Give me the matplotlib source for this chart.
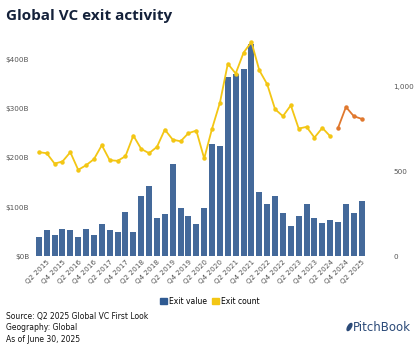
import matplotlib.pyplot as plt
from matplotlib.patches import Patch, Ellipse
import numpy as np

# data, Q1 2015 .. Q2 2025
quarters = ["Q%d %d" % (q, y) for y in range(2015, 2026) for q in range(1, 5)][:42]
exit_value = [39, 53, 43, 56, 54, 39, 55, 42, 65, 53,
              49, 90, 49, 122, 143, 78, 86, 187, 97, 82,
              66, 97, 229, 225, 364, 371, 381, 432, 131, 106,
              122, 87, 62, 81, 106, 77, 68, 74, 70, 107,
              87, 113]
exit_count = [612, 606, 545, 557, 612, 508, 535, 571, 653, 565,
              561, 588, 710, 631, 606, 643, 745, 686, 676, 724,
              739, 575, 751, 904, 1133, 1075, 1198, 1261, 1094, 1012,
              865, 824, 888, 751, 761, 698, 755, 706]
exit_count_est = [755, 878, 824, 808]

navy = '#44699a'
yellow = '#f3c614'
orange = '#e0782e'
grey = '#555555'

fig = plt.figure(figsize=(4.2, 3.48), dpi=100)
ax = fig.add_axes([0.0793, 0.264, 0.795, 0.621])
ax2 = ax.twinx()

x = np.arange(len(exit_value))
ax.bar(x, exit_value, width=0.75, color=navy, zorder=2)

x1 = np.arange(len(exit_count))
ax2.plot(x1, exit_count, color=yellow, lw=1.3, marker='o', ms=2.2, zorder=3)
x2 = np.arange(len(exit_count), len(exit_count) + len(exit_count_est))
ax2.plot(x2, exit_count_est, color=orange, lw=1.3, marker='o', ms=2.2, zorder=3)

ax.set_xlim(-0.7, 41.7)
ax.set_ylim(0, 440)
ax2.set_ylim(0, 440 / 0.3458)

ax.set_yticks([0, 100, 200, 300, 400])
ax.set_yticklabels(['$0B', '$100B', '$200B', '$300B', '$400B'])
ax2.set_yticks([0, 500, 1000])
ax2.set_yticklabels(['0', '500', '1,000'])

ticks = list(range(1, 42, 2))
ax.set_xticks(ticks)
ax.set_xticklabels([quarters[i] for i in ticks], rotation=45, ha='right',
                   rotation_mode='anchor')

for a in (ax, ax2):
    for s in a.spines.values():
        s.set_visible(False)
    a.tick_params(length=0, labelsize=5.2, labelcolor=grey)
ax.tick_params(axis='y', pad=3)
ax.tick_params(axis='x', pad=2)
ax2.tick_params(axis='y', pad=19)

fig.text(0.015, 0.955, 'Global VC exit activity', fontsize=11, fontweight='bold',
         color='#14213a', va='center', family='Open Sans')

fig.legend(handles=[Patch(color='#2f5a92', label='Exit value'),
                    Patch(color=yellow, label='Exit count')],
           loc='center', bbox_to_anchor=(0.5, 0.135), ncol=2, frameon=False,
           fontsize=5.5, handlelength=0.9, handleheight=0.9, handletextpad=0.3,
           columnspacing=0.6)

foot = "Source: Q2 2025 Global VC First Look\nGeography: Global\nAs of June 30, 2025"
fig.text(0.015, 0.058, foot, fontsize=5.5, color='#111111', va='center',
         linespacing=1.4)

# logo
fig.text(0.841, 0.06, 'PitchBook', fontsize=8.5, color='#2b4a78', ha='left',
         va='center')
fig.patches.append(Ellipse((349.5, 21), 3.2, 8, angle=-30, color='#2b4a78',
                           transform=None, figure=fig))

fig.savefig('out.png', dpi=100)
